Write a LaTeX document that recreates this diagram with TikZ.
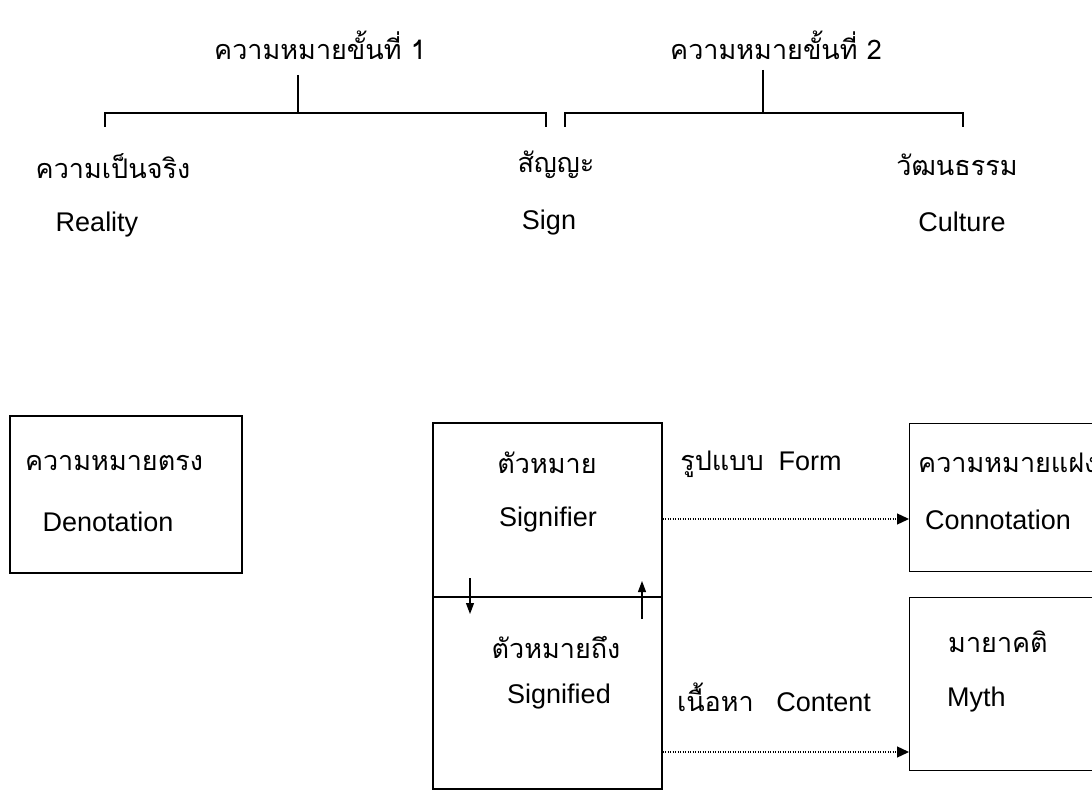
\documentclass[tikz,border=0pt]{standalone}
\usepackage{fontspec}
\setmainfont{Liberation Sans}
\newfontfamily\thai[Script=Thai]{Loma}
\usetikzlibrary{arrows.meta}
\begin{document}
\begin{tikzpicture}[x=1pt,y=-1pt,
  lbl/.style={inner sep=0pt,font=\fontsize{27}{30}\selectfont},
  th/.style={inner sep=0pt,font=\fontsize{27}{30}\selectfont\thai},
  ln/.style={line width=1.2pt},
  dotarrow/.style={line width=1.3pt,dash pattern=on 1.2pt off 1.3pt,-{Triangle[length=12pt,width=11pt]}},
  solarrow/.style={line width=1.1pt,-{Triangle[length=11pt,width=8pt]}}]
\clip (0,0) rectangle (1092,791);
\useasboundingbox (0,0) rectangle (1092,791);
% titles
\node[th] (t1) at (320,45) {ความหมายขั้นที่ 1};
\node[th] (t2) at (776,45) {ความหมายขั้นที่ 2};
% bracket 1
\coordinate (s1a) at (298,75);
\coordinate (s1b) at (298,113);
\coordinate (b1l) at (105,113);
\coordinate (b1r) at (546,113);
\draw[ln] (s1a) -- (s1b);
\draw[ln] ([yshift=-14pt]b1l) -- (b1l) -- (b1r) -- ([yshift=-14pt]b1r);
% bracket 2
\coordinate (s2a) at (763,70);
\coordinate (s2b) at (763,113);
\coordinate (b2l) at (565,113);
\coordinate (b2r) at (963,113);
\draw[ln] (s2a) -- (s2b);
\draw[ln] ([yshift=-14pt]b2l) -- (b2l) -- (b2r) -- ([yshift=-14pt]b2r);
% level labels
\node[th] (real) at (113,166) {ความเป็นจริง};
\node[lbl] (realE) at (97,225) {Reality};
\node[th] (sign) at (556,165) {สัญญะ};
\node[lbl] (signE) at (549,223) {Sign};
\node[th] (cult) at (957,165) {วัฒนธรรม};
\node[lbl] (cultE) at (962,222) {Culture};
% denotation box
\node[draw,ln,minimum width=232pt,minimum height=157pt,inner sep=0pt] (den) at (126,494.5) {};
\node[th] (denT) at (114,463) {ความหมายตรง};
\node[lbl] (denE) at (108,522) {Denotation};
% sign box
\node[draw,ln,minimum width=229pt,minimum height=366pt,inner sep=0pt] (sbox) at (547.5,606) {};
\coordinate (divL) at (433,597);
\coordinate (divR) at (662,597);
\draw[ln] (divL) -- (divR);
\node[th] (sfrT) at (547,463) {ตัวหมาย};
\node[lbl] (sfrE) at (548,520) {Signifier};
\node[th] (sfdT) at (556,647) {ตัวหมายถึง};
\node[lbl] (sfdE) at (559,697) {Signified};
% small arrows
\coordinate (da1) at (470,578);
\coordinate (da2) at (470,614);
\coordinate (ua1) at (642,619);
\coordinate (ua2) at (642,581);
\draw[solarrow] (da1) -- (da2);
\draw[solarrow] (ua1) -- (ua2);
% right boxes
\node[draw,ln,minimum width=200pt,minimum height=148pt,inner sep=0pt,anchor=north west] (con) at (909,423) {};
\node[draw,ln,minimum width=200pt,minimum height=173pt,inner sep=0pt,anchor=north west] (myth) at (909,597) {};
\node[th,anchor=west] (conT) at (918,463) {ความหมายแฝง};
\node[lbl,anchor=west] (conE) at (925,520) {Connotation};
\node[th,anchor=west] (mythT) at (948,642) {มายาคติ};
\node[lbl,anchor=west] (mythE) at (947,700) {Myth};
% middle labels
\node[lbl] (form) at (761,464) {{\thai รูปแบบ}\ \ Form};
\node[lbl] (cont) at (774,697) {{\thai เนื้อหา}\ \ \ Content};
% dotted arrows
\draw[dotarrow] (sbox.east |- 0,519) -- (con.west |- 0,519);
\draw[dotarrow] (sbox.east |- 0,752) -- (myth.west |- 0,752);
\end{tikzpicture}
\end{document}
